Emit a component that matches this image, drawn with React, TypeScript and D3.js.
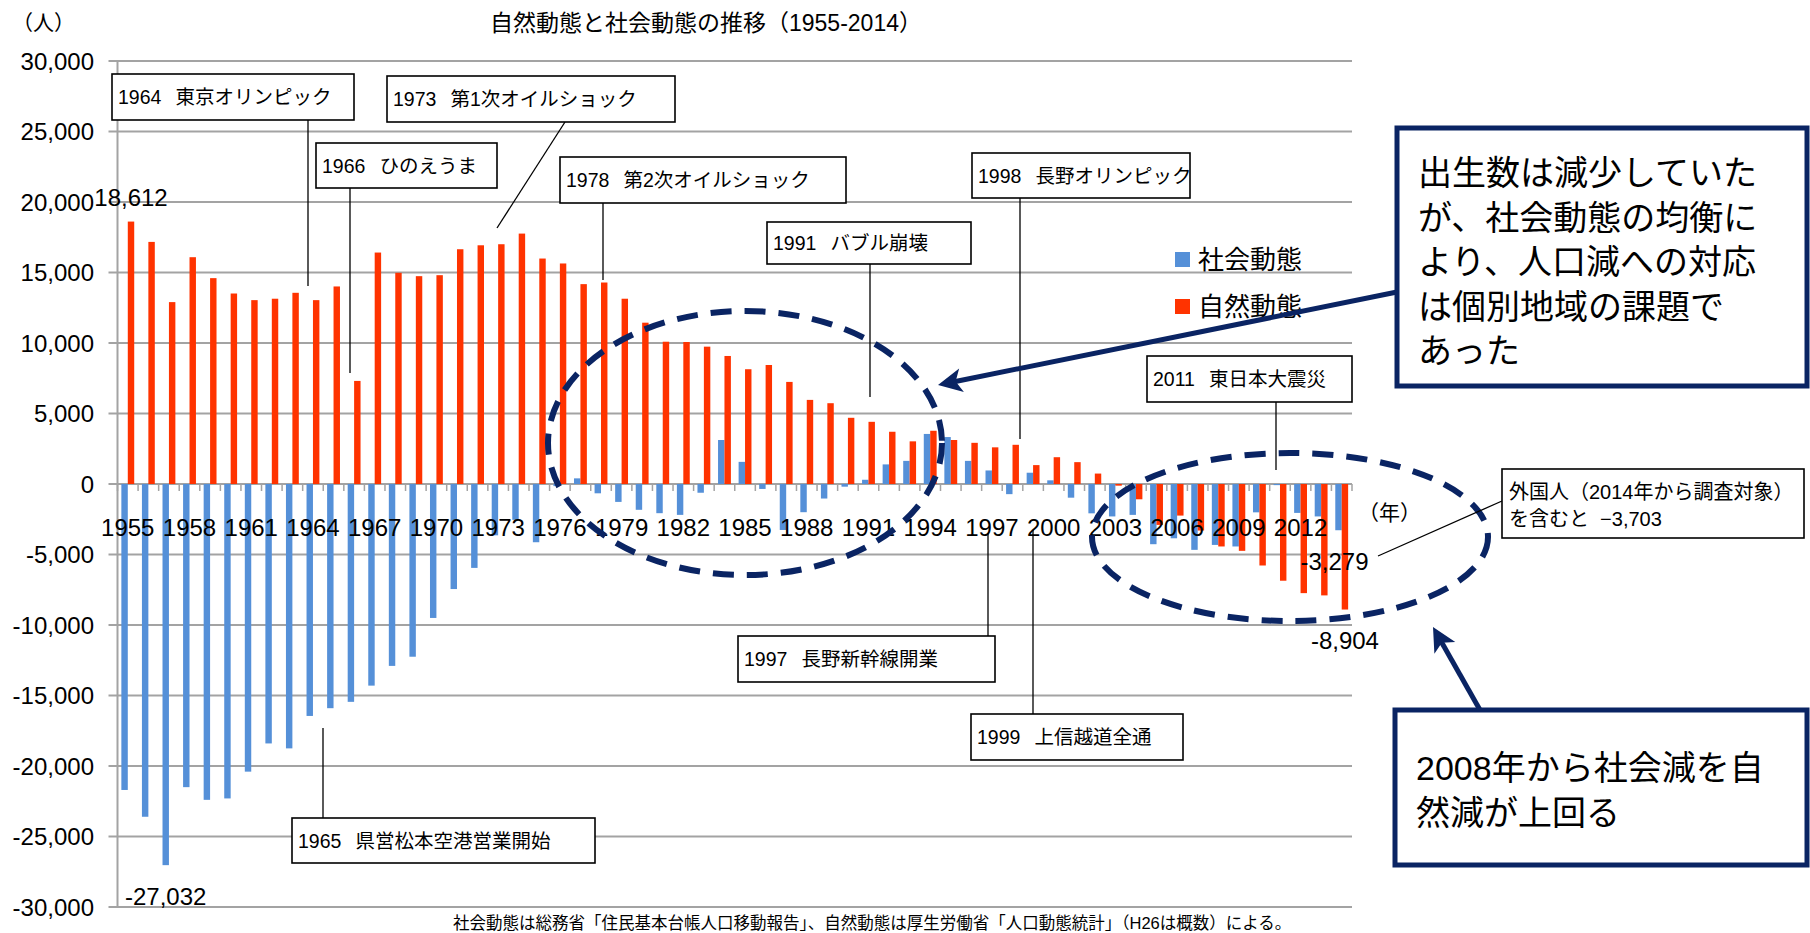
import { useEffect, useRef } from "react";
import * as d3 from "d3";

const years = [
  1955, 1956, 1957, 1958, 1959, 1960, 1961, 1962, 1963, 1964,
  1965, 1966, 1967, 1968, 1969, 1970, 1971, 1972, 1973, 1974,
  1975, 1976, 1977, 1978, 1979, 1980, 1981, 1982, 1983, 1984,
  1985, 1986, 1987, 1988, 1989, 1990, 1991, 1992, 1993, 1994,
  1995, 1996, 1997, 1998, 1999, 2000, 2001, 2002, 2003, 2004,
  2005, 2006, 2007, 2008, 2009, 2010, 2011, 2012, 2013, 2014,
];

// 社会動態
const socialChange = [
  -21700, -23600, -27032, -21500, -22400, -22300, -20400, -18400, -18750, -16450,
  -15900, -15450, -14300, -12900, -12250, -9500, -7450, -5950, -3640, -2540,
  -4130, -150, 400, -660, -1270, -1830, -2070, -2190, -620, 3120,
  1570, -350, -3260, -2000, -1030, -190, 300, 1390, 1640, 3550,
  3330, 1640, 960, -720, 800, 260, -970, -2080, -2300, -2190,
  -4270, -3850, -4670, -4320, -4430, -2010, -80, -2050, -2300, -3279,
];

// 自然動態
const naturalChange = [
  18612, 17170, 12900, 16085, 14600, 13510, 13040, 13140, 13560, 13040,
  14010, 7310, 16415, 14980, 14740, 14810, 16650, 16930, 17005, 17760,
  15990, 15640, 14175, 14290, 13140, 11440, 10090, 10070, 9740, 9080,
  8140, 8440, 7240, 5965, 5730, 4695, 4410, 3705, 3025, 3775,
  3120, 2920, 2600, 2780, 1340, 1900, 1550, 740, -118, -1085,
  -2900, -2240, -3300, -4430, -4740, -5780, -6860, -7740, -7900, -8904,
];

const seriesKeys = ["social", "natural"];
const seriesNames = ["社会動態", "自然動態"];
const yTicks = [
  -30000, -25000, -20000, -15000, -10000, -5000, 0,
  5000, 10000, 15000, 20000, 25000, 30000,
];
const labeledYears = [
  1955, 1958, 1961, 1964, 1967, 1970, 1973, 1976, 1979, 1982,
  1985, 1988, 1991, 1994, 1997, 2000, 2003, 2006, 2009, 2012,
];

const COLORS: Record<string, string> = { social: "#5590d8", natural: "#ff3300" };
const NAVY = "#0a2463";
const GRID = "#a3a3a3";
const FONT = "'Liberation Sans', 'Noto Sans CJK JP', sans-serif";

// hyphen instead of d3's unicode minus, like the original
const fmt = (v: number) => d3.format(",")(v).replace("−", "-");

// event call-outs: box [x, y, w, h], leader [x1, y1, x2, y2]
const notes = [
  { label: "1964", text: "東京オリンピック", box: [112, 74, 242, 46], leader: [308, 120, 308, 286] },
  { label: "1966", text: "ひのえうま", box: [316, 143, 181, 45], leader: [350, 188, 350, 373] },
  { label: "1973", text: "第1次オイルショック", box: [387, 76, 288, 46], leader: [565, 122, 497, 228] },
  { label: "1978", text: "第2次オイルショック", box: [560, 157, 286, 46], leader: [603, 203, 603, 280] },
  { label: "1991", text: "バブル崩壊", box: [767, 222, 204, 42], leader: [870, 264, 870, 397] },
  { label: "1998", text: "長野オリンピック", box: [972, 153, 218, 45], leader: [1020, 198, 1020, 439] },
  { label: "2011", text: "東日本大震災", box: [1147, 356, 205, 46], leader: [1276, 402, 1276, 470] },
  { label: "1997", text: "長野新幹線開業", box: [738, 636, 257, 46], leader: [988, 533, 988, 636] },
  { label: "1999", text: "上信越道全通", box: [971, 714, 212, 46], leader: [1033, 530, 1033, 714] },
  { label: "1965", text: "県営松本空港営業開始", box: [292, 818, 303, 45], leader: [323, 728, 323, 818] },
];

export default function App() {
  const svgRef = useRef<SVGSVGElement>(null);

  useEffect(() => {
    document.body.style.margin = "0";
    if (!svgRef.current) return;
    const width = 1810;
    const height = 933;
    const plot = { left: 117.5, right: 1352, top: 61, bottom: 907 };

    const svg = d3.select(svgRef.current).attr("width", width).attr("height", height);
    svg.selectAll("*").remove();
    svg.append("rect").attr("width", width).attr("height", height).attr("fill", "#fff");

    const x = d3.scaleBand<number>().domain(years).range([plot.left, plot.right]);
    const xs = d3
      .scaleBand<string>()
      .domain(seriesKeys)
      .range([0, x.bandwidth()])
      .paddingOuter(0.6);
    const y = d3.scaleLinear().domain([-30000, 30000]).range([plot.bottom, plot.top]);

    const rows = years.map((yr, i) => ({
      year: yr,
      social: socialChange[i],
      natural: naturalChange[i],
    }));

    // gridlines + y axis
    svg
      .append("g")
      .selectAll("line")
      .data(yTicks)
      .join("line")
      .attr("x1", plot.left - 9)
      .attr("x2", plot.right)
      .attr("y1", (d) => y(d))
      .attr("y2", (d) => y(d))
      .attr("stroke", GRID)
      .attr("stroke-width", 2);

    svg
      .append("line")
      .attr("x1", plot.left)
      .attr("x2", plot.left)
      .attr("y1", plot.top)
      .attr("y2", plot.bottom)
      .attr("stroke", GRID)
      .attr("stroke-width", 2);

    // category tick marks on the zero line
    const bounds = [...years.map((d) => x(d) as number), plot.right];
    svg
      .append("g")
      .selectAll("line")
      .data(bounds)
      .join("line")
      .attr("x1", (d) => d)
      .attr("x2", (d) => d)
      .attr("y1", y(0))
      .attr("y2", y(0) + 7)
      .attr("stroke", GRID)
      .attr("stroke-width", 1.5);

    // bars
    const groups = svg
      .append("g")
      .selectAll("g")
      .data(rows)
      .join("g")
      .attr("transform", (d) => `translate(${x(d.year)},0)`);

    groups
      .selectAll("rect")
      .data((d) => seriesKeys.map((k) => ({ key: k, value: (d as any)[k] as number })))
      .join("rect")
      .attr("x", (d) => xs(d.key) as number)
      .attr("width", xs.bandwidth())
      .attr("y", (d) => Math.min(y(d.value), y(0)))
      .attr("height", (d) => Math.abs(y(d.value) - y(0)))
      .attr("fill", (d) => COLORS[d.key]);

    // y tick labels
    svg
      .append("g")
      .selectAll("text")
      .data(yTicks)
      .join("text")
      .attr("x", 94)
      .attr("y", (d) => y(d))
      .attr("dy", "0.36em")
      .attr("text-anchor", "end")
      .style("font-family", FONT)
      .style("font-size", "24px")
      .text((d) => fmt(d));

    // x tick labels
    svg
      .append("g")
      .selectAll("text")
      .data(labeledYears)
      .join("text")
      .attr("x", (d) => (x(d) as number) + x.bandwidth() / 2)
      .attr("y", y(0) + 52)
      .attr("text-anchor", "middle")
      .style("font-family", FONT)
      .style("font-size", "24px")
      .text((d) => d);

    const txt = (
      s: string,
      tx: number,
      ty: number,
      size: number,
      anchor = "start",
      fill = "#000"
    ) =>
      svg
        .append("text")
        .attr("x", tx)
        .attr("y", ty)
        .attr("text-anchor", anchor)
        .attr("fill", fill)
        .style("font-family", FONT)
        .style("font-size", `${size}px`)
        .style("white-space", "pre")
        .text(s);

    // data labels
    const barCenter = (yr: number, key: string) =>
      (x(yr) as number) + (xs(key) as number) + xs.bandwidth() / 2;
    const iFirst = 0;
    const iMin = socialChange.indexOf(d3.min(socialChange) as number);
    const iLast = years.length - 1;
    txt(fmt(naturalChange[iFirst]), barCenter(years[iFirst], "natural"), y(naturalChange[iFirst]) - 16, 24, "middle");
    txt(fmt(socialChange[iMin]), barCenter(years[iMin], "social"), y(socialChange[iMin]) + 40, 24, "middle");
    txt(fmt(socialChange[iLast]), barCenter(years[iLast], "social") - 4, y(socialChange[iLast]) + 40, 24, "middle");
    txt(fmt(naturalChange[iLast]), barCenter(years[iLast], "natural"), y(naturalChange[iLast]) + 39, 24, "middle");

    // title & units
    txt("自然動態と社会動態の推移（1955-2014）", 706, 31, 23, "middle");
    txt("（人）", 12, 30, 21);
    txt("（年）", 1358, 520, 21);
    txt(
      "社会動態は総務省「住民基本台帳人口移動報告」、自然動態は厚生労働省「人口動態統計」（H26は概数）による。",
      453,
      929,
      16.5
    );

    // legend
    seriesKeys.forEach((k, i) => {
      const ly = 252 + i * 47;
      svg
        .append("rect")
        .attr("x", 1175)
        .attr("y", ly)
        .attr("width", 15)
        .attr("height", 15)
        .attr("fill", COLORS[k]);
      txt(seriesNames[i], 1198, ly + 17, 26);
    });

    // dashed ellipses
    const ellipses = [
      [745, 443, 197, 132],
      [1290, 537, 198, 84],
    ];
    svg
      .append("g")
      .selectAll("ellipse")
      .data(ellipses)
      .join("ellipse")
      .attr("cx", (d) => d[0])
      .attr("cy", (d) => d[1])
      .attr("rx", (d) => d[2])
      .attr("ry", (d) => d[3])
      .attr("fill", "none")
      .attr("stroke", NAVY)
      .attr("stroke-width", 6)
      .attr("stroke-dasharray", "21 13");

    // event call-outs
    notes.forEach((n) => {
      const [x1, y1, x2, y2] = n.leader;
      svg
        .append("line")
        .attr("x1", x1)
        .attr("y1", y1)
        .attr("x2", x2)
        .attr("y2", y2)
        .attr("stroke", "#000")
        .attr("stroke-width", 1.3);
    });
    notes.forEach((n) => {
      const [bx, by, bw, bh] = n.box;
      svg
        .append("rect")
        .attr("x", bx)
        .attr("y", by)
        .attr("width", bw)
        .attr("height", bh)
        .attr("fill", "#fff")
        .attr("stroke", "#000")
        .attr("stroke-width", 1.6);
      const t = txt("", bx + 6, by + bh / 2 + 7, 19.5);
      t.append("tspan").text(n.label);
      t.append("tspan").attr("dx", 14).text(n.text);
    });

    // 外国人 note
    svg
      .append("line")
      .attr("x1", 1378)
      .attr("y1", 556)
      .attr("x2", 1502)
      .attr("y2", 501)
      .attr("stroke", "#000")
      .attr("stroke-width", 1.3);
    svg
      .append("rect")
      .attr("x", 1502)
      .attr("y", 469)
      .attr("width", 302)
      .attr("height", 69)
      .attr("fill", "#fff")
      .attr("stroke", "#000")
      .attr("stroke-width", 1.6);
    txt("外国人（2014年から調査対象）", 1509, 499, 20);
    txt("を含むと  −3,703", 1509, 526, 20);

    // arrows
    const arrow = (x1: number, y1: number, x2: number, y2: number) => {
      const a = Math.atan2(y2 - y1, x2 - x1);
      const c = Math.cos(a);
      const s = Math.sin(a);
      const len = 24;
      const half = 12;
      const bx = x2 - len * c;
      const by = y2 - len * s;
      svg
        .append("line")
        .attr("x1", x1)
        .attr("y1", y1)
        .attr("x2", x2 - 14 * c)
        .attr("y2", y2 - 14 * s)
        .attr("stroke", NAVY)
        .attr("stroke-width", 5);
      svg
        .append("polygon")
        .attr(
          "points",
          [
            [x2, y2],
            [bx - half * s, by + half * c],
            [x2 - 0.75 * len * c, y2 - 0.75 * len * s],
            [bx + half * s, by - half * c],
          ]
            .map((p) => p.join(","))
            .join(" ")
        )
        .attr("fill", NAVY);
    };
    arrow(1397, 292, 938, 385);
    arrow(1480, 710, 1433, 627);

    // message boxes
    const msgBox = (bx: number, by: number, bw: number, bh: number, lines: string[], firstY: number) => {
      svg
        .append("rect")
        .attr("x", bx)
        .attr("y", by)
        .attr("width", bw)
        .attr("height", bh)
        .attr("fill", "#fff")
        .attr("stroke", NAVY)
        .attr("stroke-width", 5);
      lines.forEach((l, i) => txt(l, bx + 21, firstY + i * 44.6, 34));
    };
    msgBox(
      1397,
      128,
      410,
      258,
      ["出生数は減少していた", "が、社会動態の均衡に", "より、人口減への対応", "は個別地域の課題で", "あった"],
      185
    );
    msgBox(1395, 710, 412, 155, ["2008年から社会減を自", "然減が上回る"], 780);
  }, []);

  return <svg ref={svgRef} style={{ display: "block" }} />;
}
